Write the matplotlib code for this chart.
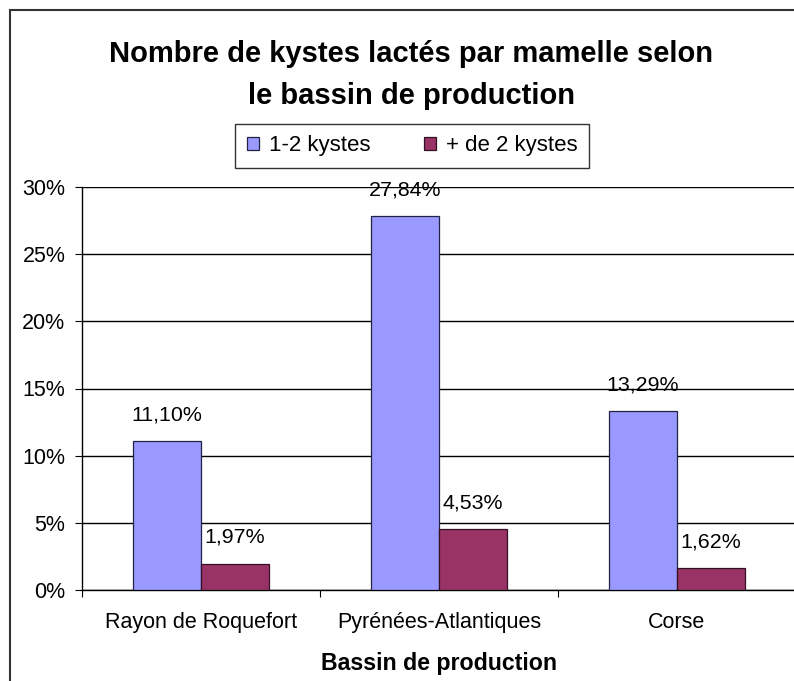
import matplotlib.pyplot as plt
import numpy as np
from matplotlib.patches import Rectangle

plt.rcParams['font.family'] = ['Liberation Sans', 'DejaVu Sans']

bassins = ["Rayon de Roquefort", "Pyrénées-Atlantiques", "Corse"]
kystes_1_2 = [11.10, 27.84, 13.29]
kystes_plus_2 = [1.97, 4.53, 1.62]
series_names = ["1-2 kystes", "+ de 2 kystes"]
yticks = [0, 5, 10, 15, 20, 25, 30]

fig = plt.figure(figsize=(7.94, 6.81), dpi=100)
ax = fig.add_axes([82 / 794, 91 / 681, 714 / 794, 403 / 681])

x = np.arange(len(bassins))
w = 68 / 238

b1 = ax.bar(x - w / 2, kystes_1_2, w, color="#9999FF", edgecolor="#222244",
            linewidth=0.9, label=series_names[0], zorder=3)
b2 = ax.bar(x + w / 2, kystes_plus_2, w, color="#993366", edgecolor="#331122",
            linewidth=0.9, label=series_names[1], zorder=3)

# value labels, french decimal comma
for bars, vals in [(b1, kystes_1_2), (b2, kystes_plus_2)]:
    for rect, v in zip(bars, vals):
        ax.annotate(f"{v:.2f}%".replace(".", ","),
                    (rect.get_x() + rect.get_width() / 2, v),
                    xytext=(0, 12), textcoords="offset points",
                    ha="center", va="bottom", fontsize=15.4)

ax.set_xlim(-0.5, 2.5)
ax.set_ylim(0, 30)
ax.set_yticks(yticks)
ax.set_yticklabels([f"{t}%" for t in yticks], fontsize=15.5)
ax.yaxis.grid(True, color="black", linewidth=1)
ax.set_axisbelow(True)

ax.set_xticks([-0.5, 0.5, 1.5, 2.5])
ax.set_xticklabels([])
ax.set_xticks(x, minor=True)
ax.set_xticklabels(bassins, minor=True, fontsize=15.5)
ax.tick_params(axis="x", which="minor", length=0, pad=16)
ax.tick_params(axis="x", which="major", length=5, direction="out")
ax.tick_params(axis="y", length=5, direction="out", pad=7)

for s in ["top", "right"]:
    ax.spines[s].set_visible(False)
ax.spines["left"].set_linewidth(1)
ax.spines["bottom"].set_linewidth(1)

ax.set_xlabel("Bassin de production", fontsize=16.7, fontweight="bold", labelpad=13.5)

fig.text(411 / 794, 1 - 75 / 681,
         "Nombre de kystes lactés par mamelle selon\nle bassin de production",
         ha="center", va="center", fontsize=21, fontweight="bold", linespacing=1.65)

leg = fig.legend(handles=[b1, b2], loc="center", bbox_to_anchor=(412 / 794, 1 - 146 / 681),
                 ncol=2, fontsize=16, frameon=True, fancybox=False, edgecolor="black",
                 handlelength=0.55, handleheight=0.55, handletextpad=0.45, columnspacing=2.4,
                 borderpad=0.5)
leg.get_frame().set_linewidth(1)

# outer chart frame
fig.patches.append(Rectangle((10 / 794, -0.05), 1.2, 1 - 10 / 681 + 0.05,
                             transform=fig.transFigure, fill=False,
                             edgecolor="#333333", linewidth=1.5))

fig.savefig("out.png", dpi=100)
